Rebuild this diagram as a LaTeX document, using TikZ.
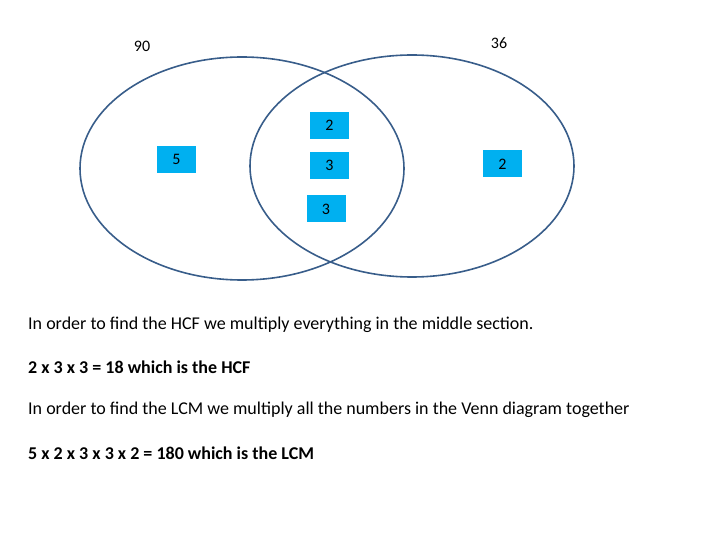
\documentclass[tikz,border=0pt]{standalone}
\usepackage{fontspec}
\setmainfont{Carlito}
\begin{document}
\begin{tikzpicture}[x=1pt,y=-1pt,
  ring/.style={draw=ringc,line width=1.6pt},
  nbox/.style={fill=boxc,minimum width=39pt,minimum height=27pt,inner sep=0pt,font=\fontsize{16}{18}\selectfont},
  lbl/.style={font=\fontsize{16}{18}\selectfont},
  txt/.style={anchor=west,inner sep=0pt,font=\fontsize{18}{21}\selectfont}]
\definecolor{ringc}{HTML}{385D8A}
\definecolor{boxc}{HTML}{00B0F0}
\useasboundingbox (0,0) rectangle (720,540);
\draw[ring] (242,168.5) ellipse [x radius=162, y radius=111.5];
\draw[ring] (412,166) ellipse [x radius=162, y radius=111];
\node[lbl] (a) at (142,46) {90};
\node[lbl] (b) at (499,43) {36};
\node[nbox] (n1) at (176.5,159.5) {5};
\node[nbox] (n2) at (329.5,125.5) {2};
\node[nbox] (n3) at (329.5,165.5) {3};
\node[nbox] (n4) at (326,209) {3};
\node[nbox] (n5) at (502.5,164) {2};
\node[txt] (t1) at (28,325) {In order to find the HCF we multiply everything in the middle section.};
\node[txt] (t2) at (28,367) {\bfseries 2 x 3 x 3 = 18 which is the HCF};
\node[txt] (t3) at (28,410) {In order to find the LCM we multiply all the numbers in the Venn diagram together};
\node[txt] (t4) at (28,453) {\bfseries 5 x 2 x 3 x 3 x 2 = 180 which is the LCM};
\end{tikzpicture}
\end{document}
